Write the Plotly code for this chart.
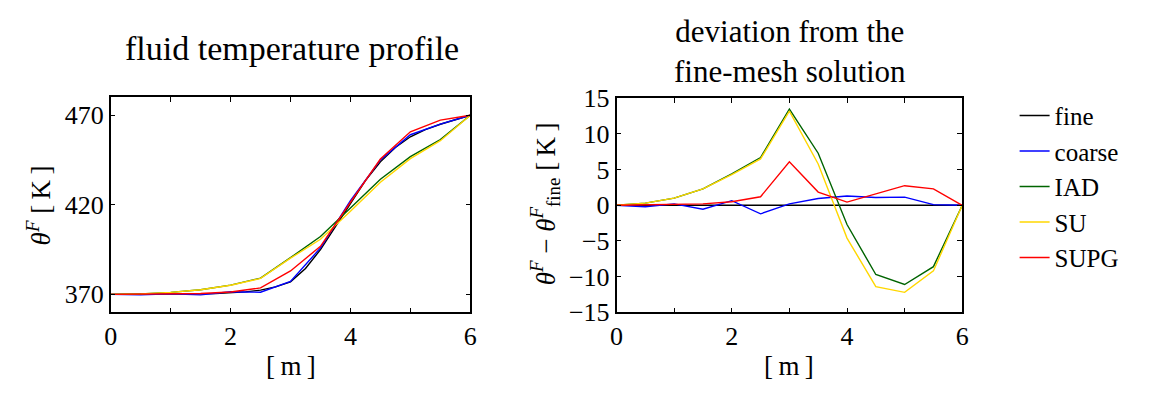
import plotly.graph_objects as go

# ---------------- data ----------------
x_fine = [0, 0.25, 0.5, 0.75, 1, 1.25, 1.5, 1.75, 2, 2.25, 2.5, 2.75, 3,
          3.25, 3.5, 3.75, 4, 4.25, 4.5, 4.75, 5, 5.25, 5.5, 5.75, 6]
T_fine = [370, 370, 370, 370.05, 370.1, 370.2, 370.3, 370.5, 370.8, 371.4, 372.4, 374.2, 377,
          384.5, 395, 408, 421, 433.5, 444, 452, 458, 462, 465, 467.5, 470]

x = [0, 0.5, 1, 1.5, 2, 2.5, 3, 3.5, 4, 4.5, 5, 5.5, 6]
T_coarse = [370, 369.8, 370.3, 369.75, 371.45, 371.2, 377.2, 395.95, 422.3, 445.1, 459.15, 465.1, 470]
T_iad = [370, 370.3, 371.1, 372.6, 375.2, 379.1, 390.5, 402.3, 418.3, 434.3, 446.9, 456.4, 470]
T_su = [370, 370.3, 371.1, 372.6, 375.1, 378.9, 390.2, 400.8, 416.4, 432.6, 445.8, 455.8, 470]
T_supg = [370, 370.05, 370.2, 370.5, 371.3, 373.6, 383.1, 396.85, 421.45, 445.6, 460.75, 467.3, 470]

d_fine = [0, 0, 0, 0, 0, 0, 0, 0, 0, 0, 0, 0, 0]
d_coarse = [0, -0.2, 0.2, -0.55, 0.65, -1.2, 0.2, 0.95, 1.3, 1.1, 1.15, 0.1, 0]
d_iad = [0, 0.3, 1.0, 2.3, 4.4, 6.7, 13.5, 7.3, -2.7, -9.7, -11.1, -8.6, 0]
d_su = [0, 0.3, 1.0, 2.3, 4.3, 6.5, 13.2, 5.8, -4.6, -11.4, -12.2, -9.2, 0]
d_supg = [0, 0.05, 0.1, 0.2, 0.5, 1.2, 6.1, 1.85, 0.45, 1.6, 2.75, 2.3, 0]

names = ["fine", "coarse", "IAD", "SU", "SUPG"]
colors = ["#000000", "#0000ff", "#006400", "#ffd700", "#ff0000"]

x_tickvals = [0, 2, 4, 6]
y1_tickvals = [370, 420, 470]
y2_tickvals = [-15, -10, -5, 0, 5, 10, 15]
y2_ticktext = ["\u221215", "\u221210", "\u22125", "0", "5", "10", "15"]

# ---------------- figure ----------------
W, H = 1152, 394
FONT = "Liberation Serif"
fig = go.Figure()

left_T = [T_fine, T_coarse, T_iad, T_su, T_supg]
left_x = [x_fine, x, x, x, x]
for i in range(5):
    fig.add_trace(go.Scatter(x=left_x[i], y=left_T[i], mode="lines", name=names[i],
                             line=dict(color=colors[i], width=1.4),
                             xaxis="x", yaxis="y", showlegend=False))

right_d = [d_fine, d_coarse, d_iad, d_su, d_supg]
for i in range(5):
    fig.add_trace(go.Scatter(x=x, y=right_d[i], mode="lines", name=names[i],
                             line=dict(color=colors[i], width=1.4),
                             xaxis="x2", yaxis="y2", showlegend=True,
                             legendgroup=names[i]))

def px_x(p):
    return p / W

def px_y(p):
    return 1 - p / H

axis_common = dict(showgrid=False, zeroline=False, showline=True, linecolor="black",
                   linewidth=1.5, mirror="ticks", ticks="inside", ticklen=5,
                   tickcolor="black", tickwidth=1,
                   tickfont=dict(family=FONT, size=26, color="black"))
minor_x = dict(dtick=1, tick0=0, ticks="inside", ticklen=5, tickcolor="black",
               tickwidth=1, showgrid=False)

fig.update_layout(
    width=W, height=H,
    margin=dict(l=0, r=0, t=0, b=0),
    paper_bgcolor="white", plot_bgcolor="white",
    font=dict(family=FONT, color="black"),
    xaxis=dict(domain=[px_x(105), px_x(469)], range=[0, 6], tickvals=x_tickvals,
               minor=minor_x, anchor="y", **axis_common),
    yaxis=dict(domain=[px_y(322), px_y(90)], range=[360, 480], tickvals=y1_tickvals,
               anchor="x", **axis_common),
    xaxis2=dict(domain=[px_x(617), px_x(967)], range=[0, 6], tickvals=x_tickvals,
                minor=minor_x, anchor="y2", **axis_common),
    yaxis2=dict(domain=[px_y(322), px_y(91)], range=[-15, 15], tickvals=y2_tickvals,
                ticktext=y2_ticktext, anchor="x2", **axis_common),
    legend=dict(x=px_x(1020), y=px_y(85), xanchor="left", yanchor="top",
                font=dict(family=FONT, size=25, color="black"),
                bgcolor="rgba(0,0,0,0)", tracegroupgap=0, itemwidth=30),
)

annots = [
    dict(text="fluid temperature profile", x=px_x(289), y=px_y(37), size=34),
    dict(text="deviation from the<br>fine-mesh solution", x=px_x(793), y=px_y(40), size=31),
    dict(text="[\u2009m\u2009]", x=px_x(287), y=px_y(380), size=27),
    dict(text="[\u2009m\u2009]", x=px_x(792), y=px_y(380), size=27),
]
for a in annots:
    fig.add_annotation(text=a["text"], x=a["x"], y=a["y"], xref="paper", yref="paper",
                       showarrow=False, xanchor="center", yanchor="middle",
                       font=dict(family=FONT, size=a["size"], color="black"))

fig.add_annotation(text="<i>\u03b8</i><sup><i>F</i></sup> [\u2009K\u2009]", x=px_x(32), y=px_y(207),
                   xref="paper", yref="paper", showarrow=False, textangle=-90,
                   xanchor="center", yanchor="middle",
                   font=dict(family=FONT, size=27, color="black"))
fig.add_annotation(text="<i>\u03b8</i><sup><i>F</i></sup> \u2212 <i>\u03b8</i><sup><i>F</i></sup><sub>fine</sub> [\u2009K\u2009]",
                   x=px_x(545), y=px_y(205),
                   xref="paper", yref="paper", showarrow=False, textangle=-90,
                   xanchor="center", yanchor="middle",
                   font=dict(family=FONT, size=27, color="black"))

fig.write_html("out.html")
